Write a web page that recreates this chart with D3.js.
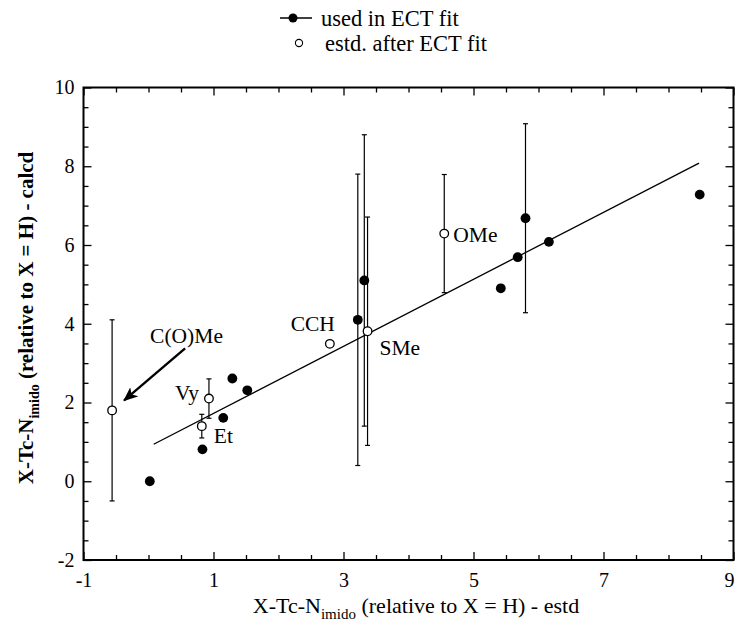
<!DOCTYPE html>
<html>
<head>
<meta charset="utf-8">
<script src="https://cdn.jsdelivr.net/npm/d3@7"></script>
<style>
  html, body { margin: 0; padding: 0; background: #fff; }
  svg { display: block; }
  text { font-family: "Liberation Serif", "Times New Roman", serif; fill: #000; }
</style>
</head>
<body>
<svg id="chart" width="735" height="627"></svg>
<script>
// ---- data ----
const fitUsedX = [0.02, 0.83, 1.15, 1.29, 1.52, 3.22, 3.32, 5.42, 5.68, 5.80, 6.16, 8.48];
const fitUsedY = [0.00, 0.81, 1.61, 2.61, 2.31, 4.10, 5.10, 4.90, 5.69, 6.68, 6.08, 7.28];
const fitUsedErr = [0, 0, 0, 0, 0, 3.7, 3.7, 0, 0, 2.4, 0, 0];

const estdNames = ["C(O)Me", "Et", "Vy", "CCH", "SMe", "OMe"];
const estdX = [-0.56, 0.82, 0.93, 2.79, 3.37, 4.55];
const estdY = [1.80, 1.40, 2.10, 3.49, 3.81, 6.29];
const estdErr = [2.3, 0.3, 0.5, 0, 2.9, 1.5];

const fitLineX = [0.08, 8.47];
const fitLineY = [0.94, 8.08];

const xTickLabels = [-1, 1, 3, 5, 7, 9];
const yTickLabels = [-2, 0, 2, 4, 6, 8, 10];

const legendLabels = ["used in ECT fit", "estd. after ECT fit"];

// ---- layout ----
const svg = d3.select("#chart");
const x = d3.scaleLinear().domain([-1, 9]).range([83.5, 733.5]);
const y = d3.scaleLinear().domain([-2, 10]).range([560, 87.5]);
const SERIF = '"Liberation Serif", "Times New Roman", serif';

const minorX = d3.range(-1, 9.001, 0.5);
const minorY = d3.range(-2, 10.001, 0.5);
const isMajorX = v => xTickLabels.some(t => Math.abs(t - v) < 1e-6);
const isMajorY = v => yTickLabels.some(t => Math.abs(t - v) < 1e-6);

// frame
const g = svg.append("g");
g.append("rect")
  .attr("x", x(-1)).attr("y", y(10))
  .attr("width", x(9) - x(-1)).attr("height", y(-2) - y(10))
  .attr("fill", "none").attr("stroke", "#000").attr("stroke-width", 2);

function styleAxis(sel) {
  sel.select(".domain").remove();
  sel.attr("font-family", SERIF);
  sel.selectAll(".tick line").attr("stroke", "#000").attr("stroke-width", 1.3);
  sel.selectAll(".tick text").style("font-family", SERIF).attr("font-size", 20).attr("fill", "#000");
}
const fmt = v => String(Math.round(v));
const axB = g.append("g").attr("transform", `translate(0,${y(-2)})`)
  .call(d3.axisBottom(x).tickValues(minorX).tickSizeOuter(0)
    .tickSizeInner(-6).tickPadding(13)
    .tickFormat(v => isMajorX(v) ? fmt(v) : ""));
styleAxis(axB);
axB.selectAll(".tick line").attr("y2", d => isMajorX(d) ? -8 : -5);
axB.selectAll(".tick text").attr("dy", "0.71em").attr("y", 13);
// keep the last label inside the picture edge
axB.selectAll(".tick text").filter(d => Math.abs(d - 9) < 1e-6)
  .attr("text-anchor", "end").attr("x", 734 - x(9));

const axT = g.append("g").attr("transform", `translate(0,${y(10)})`)
  .call(d3.axisTop(x).tickValues(minorX).tickSizeOuter(0).tickSizeInner(-6).tickFormat(""));
styleAxis(axT);
axT.selectAll(".tick line").attr("y2", d => isMajorX(d) ? 8 : 5);

const axL = g.append("g").attr("transform", `translate(${x(-1)},0)`)
  .call(d3.axisLeft(y).tickValues(minorY).tickSizeOuter(0).tickSizeInner(-6).tickPadding(10)
    .tickFormat(v => isMajorY(v) ? fmt(v) : ""));
styleAxis(axL);
axL.selectAll(".tick line").attr("x2", d => isMajorY(d) ? 8 : 5);
axL.selectAll(".tick text").attr("x", -9);

const axR = g.append("g").attr("transform", `translate(${x(9)},0)`)
  .call(d3.axisRight(y).tickValues(minorY).tickSizeOuter(0).tickSizeInner(-6).tickFormat(""));
styleAxis(axR);
axR.selectAll(".tick line").attr("x2", d => isMajorY(d) ? -8 : -5);

// fit line
svg.append("line")
  .attr("x1", x(fitLineX[0])).attr("y1", y(fitLineY[0]))
  .attr("x2", x(fitLineX[1])).attr("y2", y(fitLineY[1]))
  .attr("stroke", "#000").attr("stroke-width", 1.3);

// error bars
function errBars(xs, ys, es) {
  xs.forEach((xv, i) => {
    const e = es[i];
    if (!e) return;
    const px = x(xv), y1 = y(ys[i] + e), y2 = y(ys[i] - e);
    svg.append("line").attr("x1", px).attr("x2", px).attr("y1", y1).attr("y2", y2)
      .attr("stroke", "#000").attr("stroke-width", 1.2);
    [y1, y2].forEach(yy => svg.append("line").attr("x1", px - 2.5).attr("x2", px + 2.5)
      .attr("y1", yy).attr("y2", yy).attr("stroke", "#000").attr("stroke-width", 1.2));
  });
}
errBars(fitUsedX, fitUsedY, fitUsedErr);
errBars(estdX, estdY, estdErr);

// points
svg.append("g").selectAll("circle").data(fitUsedX).join("circle")
  .attr("cx", d => x(d)).attr("cy", (d, i) => y(fitUsedY[i])).attr("r", 4.9).attr("fill", "#000");
svg.append("g").selectAll("circle").data(estdX).join("circle")
  .attr("cx", d => x(d)).attr("cy", (d, i) => y(estdY[i])).attr("r", 4.3)
  .attr("fill", "#fff").attr("stroke", "#000").attr("stroke-width", 1.3);

// point labels (pixel offsets from each point)
const labelOffsets = {
  "C(O)Me": [38, -67, "start"],
  "Et": [12, 17, "start"],
  "Vy": [-10, 1, "end"],
  "CCH": [5, -13, "end"],
  "SMe": [12, 24, "start"],
  "OMe": [9, 8, "start"]
};
estdNames.forEach((n, i) => {
  const o = labelOffsets[n];
  svg.append("text").attr("x", x(estdX[i]) + o[0]).attr("y", y(estdY[i]) + o[1])
    .attr("text-anchor", o[2]).attr("font-size", 21.5).text(n);
});

// arrow from C(O)Me label to its point
const defs = svg.append("defs");
defs.append("marker").attr("id", "ah").attr("viewBox", "0 0 12 10")
  .attr("refX", 11).attr("refY", 5).attr("markerWidth", 6).attr("markerHeight", 5)
  .attr("orient", "auto").attr("markerUnits", "strokeWidth")
  .append("path").attr("d", "M0,0 L12,5 L0,10 L3,5 z").attr("fill", "#000");
const ci = estdNames.indexOf("C(O)Me");
const cpx = x(estdX[ci]), cpy = y(estdY[ci]);
svg.append("line").attr("x1", cpx + 73).attr("y1", cpy - 62)
  .attr("x2", cpx + 12).attr("y2", cpy - 10)
  .attr("stroke", "#000").attr("stroke-width", 2.4).attr("marker-end", "url(#ah)");

// legend
const lg = svg.append("g");
lg.append("line").attr("x1", 280).attr("x2", 312).attr("y1", 18).attr("y2", 18)
  .attr("stroke", "#000").attr("stroke-width", 1.5);
lg.append("circle").attr("cx", 293).attr("cy", 18).attr("r", 4.5).attr("fill", "#000");
lg.append("text").attr("x", 321).attr("y", 26).attr("font-size", 22.5).text(legendLabels[0]);
lg.append("circle").attr("cx", 299).attr("cy", 43).attr("r", 3.6)
  .attr("fill", "#fff").attr("stroke", "#000").attr("stroke-width", 1.1);
lg.append("text").attr("x", 325).attr("y", 51).attr("font-size", 22.5).text(legendLabels[1]);

// x axis title
const xt = svg.append("text").attr("x", 416).attr("y", 613).attr("text-anchor", "middle").attr("font-size", 22);
xt.append("tspan").text("X-Tc-N");
xt.append("tspan").attr("font-size", 15).attr("dy", 6).text("imido");
xt.append("tspan").attr("dy", -6).text(" (relative to X = H) - estd");

// y axis title
const yt = svg.append("text").attr("transform", "translate(33,318) rotate(-90)")
  .attr("text-anchor", "middle").attr("font-size", 21).attr("font-weight", "bold");
yt.append("tspan").text("X-Tc-N");
yt.append("tspan").attr("font-size", 14).attr("dy", 6).text("imido");
yt.append("tspan").attr("dy", -6).text(" (relative to X = H) - calcd");
</script>
</body>
</html>
